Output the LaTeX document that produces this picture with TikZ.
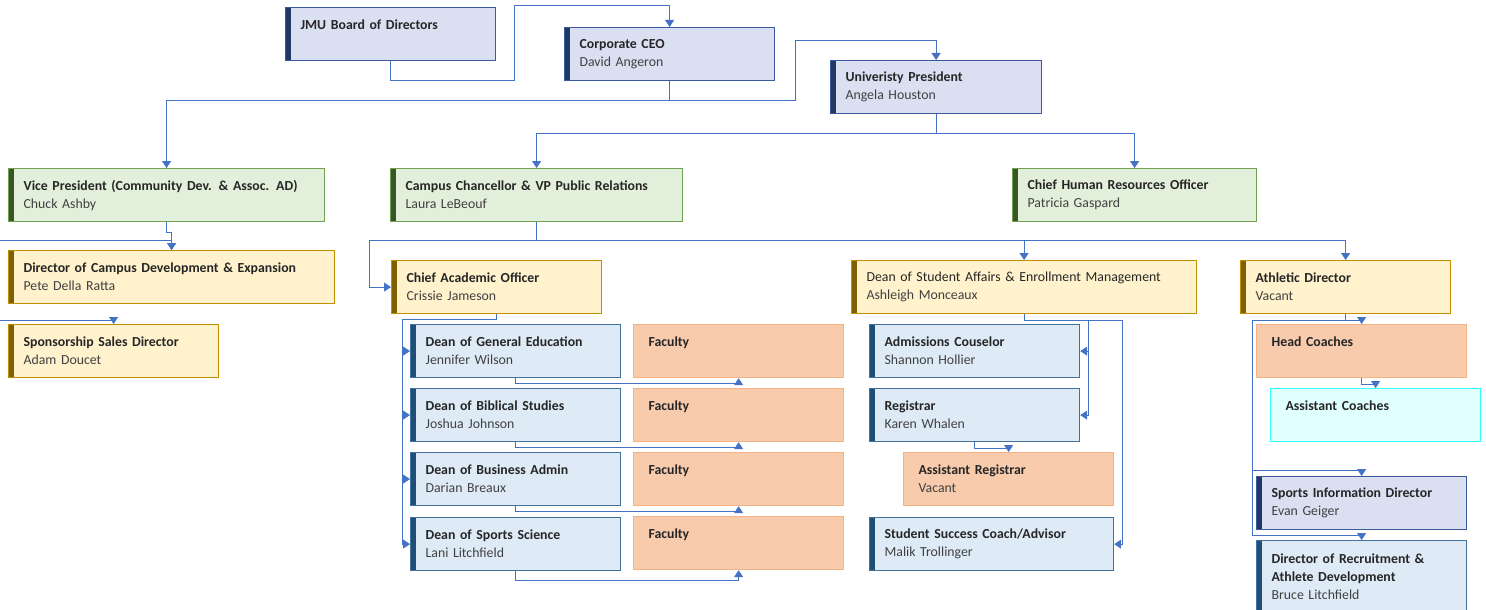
\documentclass[tikz,border=0pt]{standalone}
\usepackage{fontspec}
\setmainfont{Carlito}
\usepackage{xcolor}
\usetikzlibrary{arrows.meta,calc}

\definecolor{linkblue}{HTML}{4472C4}
\definecolor{titlegray}{HTML}{262626}
\definecolor{namegray}{HTML}{404040}
\definecolor{lavfill}{HTML}{DAE0F2}
\definecolor{lavline}{HTML}{3B5A9A}
\definecolor{lavbar}{HTML}{1F3864}
\definecolor{bluefill}{HTML}{DEEBF7}
\definecolor{blueline}{HTML}{41719C}
\definecolor{bluebar}{HTML}{1F4E79}
\definecolor{greenfill}{HTML}{E2EFDA}
\definecolor{greenline}{HTML}{70A050}
\definecolor{greenbar}{HTML}{375623}
\definecolor{yelfill}{HTML}{FFF2CC}
\definecolor{yelline}{HTML}{BF9000}
\definecolor{yelbar}{HTML}{7F6000}
\definecolor{orfill}{HTML}{F8CBAD}
\definecolor{orline}{HTML}{F4B183}
\definecolor{cyfill}{HTML}{E0FFFF}
\definecolor{cyline}{HTML}{33FFFF}

\tikzset{
  bar/.style={path picture={\fill[#1] (path picture bounding box.north west) rectangle ($(path picture bounding box.south west)+(5,0)$);}},
  card/.style={draw, line width=1.2pt, anchor=north west, minimum height=53pt, inner xsep=15pt,
    align=left, text width=180pt, font=\fontsize{13.8}{18}\selectfont, text=titlegray},
  lavcard/.style={card, fill=lavfill, draw=lavline, bar=lavbar},
  bluecard/.style={card, fill=bluefill, draw=blueline, bar=bluebar},
  greencard/.style={card, fill=greenfill, draw=greenline, bar=greenbar},
  yelcard/.style={card, fill=yelfill, draw=yelline, bar=yelbar},
  orcard/.style={card, fill=orfill, draw=orline},
  cycard/.style={card, fill=cyfill, draw=cyline},
  conn/.style={draw=linkblue, line width=1pt, -{Triangle[width=9pt,length=7pt]}},
}
\newcommand{\who}[1]{{\color{namegray}#1}}

\begin{document}
\begin{tikzpicture}[x=1pt,y=-1pt]
\useasboundingbox[fill=white] (0,0) rectangle (1486,610);

%Top level
\node [lavcard] (jmu) at (285,7) {\textbf{JMU Board of Directors}\\[-5pt]\strut};
\node [lavcard] (ceo) at (564,27) {\textbf{Corporate CEO}\\\who{David Angeron}};
\node [lavcard, text width=181pt] (pres) at (830,60) {\textbf{Univeristy President}\\\who{Angela Houston}};

%Second level
\node [greencard, text width=286pt] (vp) at (8,168) {\textbf{Vice President (Community Dev. \& Assoc. AD)}\\\who{Chuck Ashby}};
\node [greencard, text width=262pt] (chan) at (390,168) {\textbf{Campus Chancellor \& VP Public Relations}\\\who{Laura LeBeouf}};
\node [greencard, text width=214pt] (hr) at (1012,168) {\textbf{Chief Human Resources Officer}\\\who{Patricia Gaspard}};

%Third level
\node [yelcard, text width=296pt] (dev) at (8,250) {\textbf{Director of Campus Development \& Expansion}\\\who{Pete Della Ratta}};
\node [yelcard] (spon) at (8,324) {\textbf{Sponsorship Sales Director}\\\who{Adam Doucet}};
\node [yelcard] (cao) at (391,260) {\textbf{Chief Academic Officer}\\\who{Crissie Jameson}};
\node [yelcard, text width=315pt] (dsa) at (851,260) {Dean of Student Affairs \& Enrollment Management\\\who{Ashleigh Monceaux}};
\node [yelcard] (ath) at (1240,260) {\textbf{Athletic Director}\\\who{Vacant}};

%Deans and faculty
\node [bluecard] (gen) at (410,324) {\textbf{Dean of General Education}\\\who{Jennifer Wilson}};
\node [bluecard] (bib) at (410,388) {\textbf{Dean of Biblical Studies}\\\who{Joshua Johnson}};
\node [bluecard] (bus) at (410,452) {\textbf{Dean of Business Admin}\\\who{Darian Breaux}};
\node [bluecard] (spo) at (410,517) {\textbf{Dean of Sports Science}\\\who{Lani Litchfield}};
\node [orcard] (fgen) at (633,324) {\textbf{Faculty}\\[-5pt]\strut};
\node [orcard] (fbib) at (633,388) {\textbf{Faculty}\\[-5pt]\strut};
\node [orcard] (fbus) at (633,452) {\textbf{Faculty}\\[-5pt]\strut};
\node [orcard] (fspo) at (633,516) {\textbf{Faculty}\\[-5pt]\strut};

%Student affairs
\node [bluecard] (adm) at (869,324) {\textbf{Admissions Couselor}\\\who{Shannon Hollier}};
\node [bluecard] (reg) at (869,388) {\textbf{Registrar}\\\who{Karen Whalen}};
\node [orcard] (areg) at (903,452) {\textbf{Assistant Registrar}\\\who{Vacant}};
\node [bluecard, text width=214pt] (ssc) at (869,517) {\textbf{Student Success Coach/Advisor}\\\who{Malik Trollinger}};

%Athletics
\node [orcard] (head) at (1256,324) {\textbf{Head Coaches}\\[-5pt]\strut};
\node [cycard] (asst) at (1270,388) {\textbf{Assistant Coaches}\\[-5pt]\strut};
\node [lavcard] (sid) at (1256,476) {\textbf{Sports Information Director}\\\who{Evan Geiger}};
\node [bluecard, minimum height=72pt] (rec) at (1256,540) {\textbf{Director of Recruitment \&}\\\textbf{Athlete Development}\\\who{Bruce Litchfield}};

%Connectors
\coordinate (jmubend) at (514,6);
\coordinate (presbend) at (795,41);
\coordinate (offdev) at (0,240);
\coordinate (offspon) at (0,320);
\draw [conn] (jmu.south) -- ++(0,19) -| (jmubend) -| (ceo.north);
\draw [conn] (ceo.south) -- ++(0,19) -| (vp.north);
\draw [conn] ($(ceo.south)+(0,19)$) -| (presbend) -| (pres.north);
\draw [conn] (pres.south) -- ++(0,19) -| (chan.north);
\draw [conn] ($(pres.south)+(0,19)$) -| (hr.north);
\draw [conn] (vp.south) -- ++(0,10) -| (dev.north);
\draw [conn] (offdev) -| (dev.north);
\draw [conn] (offspon) -| (spon.north);
\draw [conn] (chan.south) -- ++(0,18) -| ($(cao.west)+(-22,0)$) -- (cao.west);
\draw [conn] ($(chan.south)+(0,18)$) -| (dsa.north);
\draw [conn] ($(chan.south)+(0,18)$) -| (ath.north);
\foreach \d in {gen,bib,bus,spo}
  \draw [conn] (cao.south) -- ++(0,5) -| ($(\d.west)+(-8,0)$) -- (\d.west);
\foreach \d/\f/\h in {gen/fgen/5,bib/fbib/5,bus/fbus/5,spo/fspo/9}
  \draw [conn] (\d.south) -- ++(0,\h) -| (\f.south);
\foreach \s in {adm,reg}
  \draw [conn] (dsa.south) -- ++(0,6) -| ($(\s.east)+(8,0)$) -- (\s.east);
\draw [conn] (dsa.south) -- ++(0,6) -| ($(ssc.east)+(8,0)$) -- (ssc.east);
\draw [conn] (reg.south) -- ++(0,6) -| (areg.north);
\draw [conn] (ath.south) -- ++(0,6) -| (head.north);
\draw [conn] (head.south) -- ++(0,6) -| (asst.north);
\draw [conn] (ath.south) -- ++(0,6) -- ++(-93,0) |- ($(sid.north)+(0,-6)$) -- (sid.north);
\draw [conn] (ath.south) -- ++(0,6) -- ++(-93,0) |- ($(rec.north)+(0,-5)$) -- (rec.north);
\end{tikzpicture}
\end{document}
